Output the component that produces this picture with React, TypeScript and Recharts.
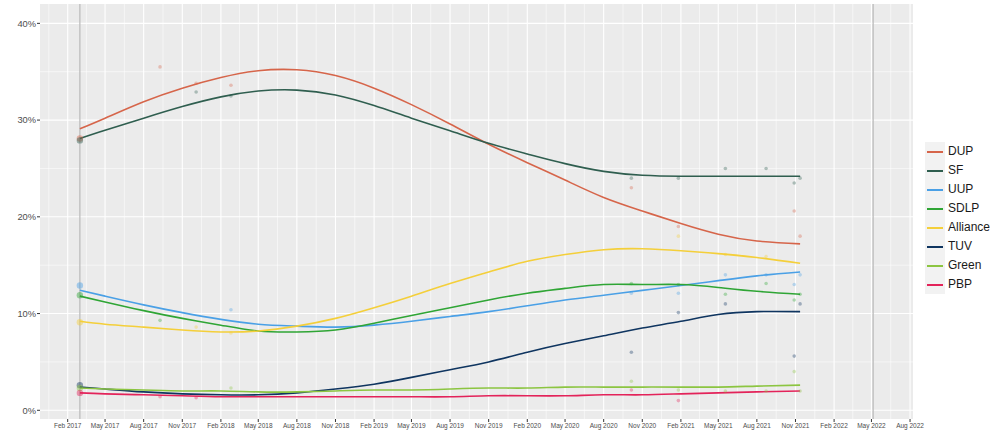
import {
  ComposedChart,
  Line,
  Scatter,
  XAxis,
  YAxis,
  CartesianGrid,
  ReferenceLine,
} from "recharts";

document.body.style.margin = "0";

const toDay = (s: string) => {
  const [y, m, d] = s.split("-").map(Number);
  return Date.UTC(y, m - 1, d) / 86400000;
};

// smoothed trend
const trendDates = [
  "2017-03-02", "2017-05-01", "2017-08-01", "2017-11-01", "2018-02-01",
  "2018-05-01", "2018-08-01", "2018-11-01", "2019-02-01", "2019-05-01",
  "2019-08-01", "2019-11-01", "2020-02-01", "2020-05-01", "2020-08-01",
  "2020-11-01", "2021-02-01", "2021-05-01", "2021-08-01", "2021-11-12",
];
const dupTrend = [29.1, 30.2, 31.9, 33.3, 34.4, 35.1, 35.2, 34.6, 33.3, 31.6, 29.6, 27.5, 25.6, 23.8, 22.0, 20.6, 19.3, 18.2, 17.5, 17.2];
const sfTrend = [28.1, 28.95, 30.2, 31.4, 32.4, 33.0, 33.1, 32.6, 31.5, 30.2, 28.9, 27.6, 26.5, 25.5, 24.7, 24.3, 24.2, 24.2, 24.2, 24.2];
const uupTrend = [12.4, 11.8, 10.9, 10.1, 9.4, 8.9, 8.7, 8.6, 8.8, 9.2, 9.7, 10.2, 10.8, 11.4, 11.9, 12.4, 12.9, 13.4, 13.9, 14.3];
const sdlpTrend = [11.8, 11.2, 10.3, 9.5, 8.8, 8.2, 8.1, 8.3, 9.0, 9.8, 10.6, 11.4, 12.1, 12.6, 13.0, 13.0, 13.0, 12.7, 12.3, 12.0];
const allianceTrend = [9.2, 8.9, 8.6, 8.3, 8.1, 8.2, 8.7, 9.5, 10.6, 11.8, 13.1, 14.3, 15.4, 16.1, 16.6, 16.7, 16.5, 16.2, 15.8, 15.2];
const tuvTrend = [2.4, 2.2, 1.9, 1.7, 1.6, 1.6, 1.8, 2.2, 2.7, 3.4, 4.2, 5.0, 6.0, 6.9, 7.7, 8.5, 9.2, 9.9, 10.2, 10.2];
const greenTrend = [2.3, 2.2, 2.1, 2.0, 2.0, 1.9, 1.9, 2.0, 2.1, 2.1, 2.2, 2.3, 2.3, 2.4, 2.4, 2.4, 2.4, 2.4, 2.5, 2.6];
const pbpTrend = [1.8, 1.7, 1.6, 1.5, 1.4, 1.4, 1.4, 1.4, 1.4, 1.4, 1.4, 1.5, 1.5, 1.5, 1.6, 1.6, 1.7, 1.8, 1.9, 2.0];

// individual polls (faint dots), first one is the 2017 election
const pollDates = [
  "2017-03-02", "2017-09-09", "2017-12-04", "2018-02-25", "2020-10-06",
  "2021-01-26", "2021-05-18", "2021-08-23", "2021-10-29", "2021-11-12",
];
const dupPolls = [28.1, 35.5, 33.8, 33.6, 23.0, 19.0, null, null, 20.6, 18.0];
const sfPolls = [27.9, null, 32.9, 32.5, 24.0, 24.0, 25.0, 25.0, 23.5, 24.0];
const uupPolls = [12.9, null, null, 10.4, 12.1, 12.1, 14.0, 14.0, 13.0, 14.0];
const sdlpPolls = [11.9, 9.3, null, null, 13.1, 13.0, 12.0, 13.1, 11.4, 12.0];
const alliancePolls = [9.1, null, 8.6, 8.0, null, 18.0, 16.1, 15.9, null, null];
const tuvPolls = [2.6, null, null, null, 6.0, 10.1, 11.0, null, 5.6, 11.0];
const greenPolls = [2.3, null, null, 2.3, 3.0, 2.1, 2.0, 2.0, 4.0, 2.0];
const pbpPolls = [1.8, 1.4, 1.3, null, 2.1, 1.0, null, null, null, null];

const parties = [
  { name: "DUP", color: "#d6654a", trend: dupTrend, polls: dupPolls },
  { name: "SF", color: "#2f5e4f", trend: sfTrend, polls: sfPolls },
  { name: "UUP", color: "#4aa0e6", trend: uupTrend, polls: uupPolls },
  { name: "SDLP", color: "#2fa535", trend: sdlpTrend, polls: sdlpPolls },
  { name: "Alliance", color: "#f4cf3a", trend: allianceTrend, polls: alliancePolls },
  { name: "TUV", color: "#0f3560", trend: tuvTrend, polls: tuvPolls },
  { name: "Green", color: "#8cc541", trend: greenTrend, polls: greenPolls },
  { name: "PBP", color: "#e3235a", trend: pbpTrend, polls: pbpPolls },
];

const electionDates = ["2017-03-02", "2022-05-05"];
const yTicks = [0, 10, 20, 30, 40];
const yMinor = [5, 15, 25, 35];

const MONTHS = ["Jan", "Feb", "Mar", "Apr", "May", "Jun", "Jul", "Aug", "Sep", "Oct", "Nov", "Dec"];
const xTickDates = [
  "2017-02-01", "2017-05-01", "2017-08-01", "2017-11-01",
  "2018-02-01", "2018-05-01", "2018-08-01", "2018-11-01",
  "2019-02-01", "2019-05-01", "2019-08-01", "2019-11-01",
  "2020-02-01", "2020-05-01", "2020-08-01", "2020-11-01",
  "2021-02-01", "2021-05-01", "2021-08-01", "2021-11-01",
  "2022-02-01", "2022-05-01", "2022-08-01",
];
const xTicks = xTickDates.map(toDay);
const xMinor = xTicks.slice(1).map((t, i) => (t + xTicks[i]) / 2).concat([xTicks[0] - 45]);

const fmtDay = (d: number) => {
  const dt = new Date(d * 86400000);
  return `${MONTHS[dt.getUTCMonth()]} ${dt.getUTCFullYear()}`;
};

const FONT = "'Liberation Sans', Arial, sans-serif";

const Dot = (props: any) => {
  const { cx, cy, fill, payload } = props;
  if (cx == null || cy == null) return null;
  const big = payload.big;
  return <circle cx={cx} cy={cy} r={big ? 3.2 : 1.8} fill={fill} fillOpacity={big ? 0.45 : 0.35} />;
};

export default function App() {
  return (
    <div style={{ position: "relative", width: 1000, height: 444, fontFamily: FONT, background: "#fff" }}>
      <ComposedChart width={1000} height={444} margin={{ top: 4, right: 87, bottom: 0, left: 0 }}>
        <CartesianGrid
          fill="#ebebeb"
          stroke="#ffffff"
          strokeWidth={0.55}
          horizontalValues={yMinor}
          verticalValues={xMinor}
        />
        <CartesianGrid
          stroke="#ffffff"
          strokeWidth={1.1}
          horizontalValues={yTicks}
          verticalValues={xTicks}
        />
        <XAxis
          type="number"
          dataKey="x"
          domain={[toDay("2016-11-27"), toDay("2022-08-08")]}
          allowDataOverflow
          ticks={xTicks}
          tickFormatter={fmtDay}
          interval={0}
          height={25}
          axisLine={false}
          tickSize={3}
          tickMargin={1}
          tickLine={{ stroke: "#333333" }}
          tick={{ fontSize: 6.5, fill: "#4d4d4d", fontFamily: FONT }}
        />
        <YAxis
          type="number"
          dataKey="v"
          domain={[-0.9, 42]}
          allowDataOverflow
          ticks={yTicks}
          tickFormatter={(v: number) => `${v}%`}
          width={40}
          axisLine={false}
          tickSize={3}
          tickMargin={1}
          tickLine={{ stroke: "#333333" }}
          tick={{ fontSize: 9.3, fill: "#4d4d4d", fontFamily: FONT }}
        />
        {electionDates.map((d) => (
          <ReferenceLine key={d} x={toDay(d)} stroke="#bdbdbd" strokeWidth={1.3} />
        ))}
        {parties.map((p) => (
          <Scatter
            key={p.name + "-polls"}
            data={pollDates
              .map((d, i) => ({ x: toDay(d), v: p.polls[i], big: i === 0 }))
              .filter((o) => o.v != null)}
            fill={p.color}
            shape={Dot}
            isAnimationActive={false}
          />
        ))}
        {parties.map((p) => (
          <Line
            key={p.name}
            data={trendDates.map((d, i) => ({ x: toDay(d), v: p.trend[i] }))}
            dataKey="v"
            type="natural"
            stroke={p.color}
            strokeWidth={1.6}
            dot={false}
            activeDot={false}
            isAnimationActive={false}
          />
        ))}
      </ComposedChart>
      <div style={{ position: "absolute", left: 925, top: 142, fontSize: 12, color: "#1a1a1a" }}>
        {parties.map((p) => (
          <div key={p.name} style={{ display: "flex", alignItems: "center", height: 19 }}>
            <div style={{ width: 20, height: 19, background: "#f2f2f2", display: "flex", alignItems: "center", justifyContent: "center" }}>
              <div style={{ width: 16, height: 2, background: p.color }} />
            </div>
            <span style={{ marginLeft: 3, lineHeight: "19px" }}>{p.name}</span>
          </div>
        ))}
      </div>
    </div>
  );
}
